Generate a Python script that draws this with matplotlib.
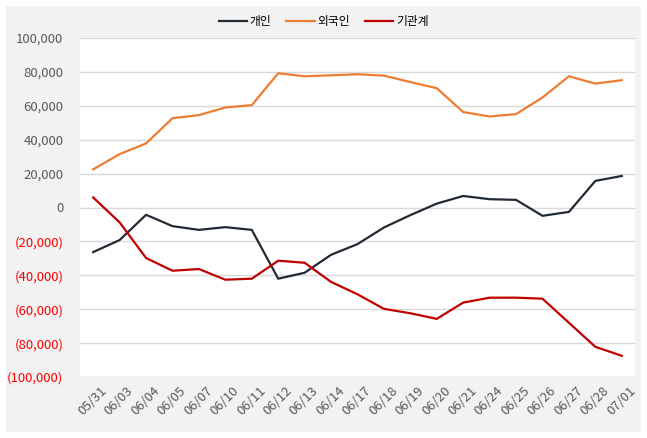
import matplotlib
matplotlib.use("Agg")
import matplotlib.pyplot as plt
from matplotlib.patches import Rectangle
from matplotlib.ticker import FuncFormatter, MultipleLocator
from matplotlib.transforms import ScaledTranslation

plt.rcParams['font.family'] = ['Noto Sans CJK KR', 'DejaVu Sans']

dates = ['05/31', '06/03', '06/04', '06/05', '06/07', '06/10', '06/11', '06/12',
         '06/13', '06/14', '06/17', '06/18', '06/19', '06/20', '06/21', '06/24',
         '06/25', '06/26', '06/27', '06/28', '07/01']

# 개인
individual = [-26300, -19200, -4300, -11000, -13200, -11600, -13200, -42000,
              -38500, -27900, -21600, -11800, -4500, 2300, 6800, 4900,
              4500, -4900, -2600, 15700, 18600]
# 외국인
foreign = [22500, 31500, 37800, 52700, 54500, 59000, 60400, 79200,
           77400, 78000, 78600, 77800, 74000, 70400, 56300, 53700,
           55100, 64900, 77400, 73100, 75100]
# 기관계
institution = [5900, -8800, -29800, -37300, -36300, -42600, -42000, -31400,
               -32600, -43900, -51200, -59800, -62400, -65700, -56100, -53200,
               -53200, -53800, -68000, -82200, -87500]

W, H = 647, 438
fig = plt.figure(figsize=(W / 100, H / 100), dpi=100)
fig.patch.set_facecolor('white')
fig.patches.append(Rectangle((6 / W, 6 / H), 635 / W, 426 / H, transform=fig.transFigure,
                             facecolor='#f2f2f2', edgecolor='none', zorder=-10))

ax = fig.add_axes([80 / W, (H - 377) / H, 555 / W, 339 / H])
ax.set_facecolor('white')

x = list(range(len(dates)))
ax.plot(x, individual, color='#222a35', lw=1.6, label='개인')
ax.plot(x, foreign, color='#ed7d31', lw=1.6, label='외국인')
ax.plot(x, institution, color='#c00000', lw=1.6, label='기관계')

ax.set_xlim(-0.5, len(dates) - 0.5)
ax.set_ylim(-100000, 100000)
ax.yaxis.set_major_locator(MultipleLocator(20000))
ax.yaxis.grid(True, color='#d9d9d9', lw=1)
ax.set_axisbelow(True)
for s in ax.spines.values():
    s.set_visible(False)


def fmt(v, pos):
    if v < 0:
        return '({:,.0f})'.format(-v)
    return '{:,.0f}'.format(v)


ax.yaxis.set_major_formatter(FuncFormatter(fmt))
ax.tick_params(axis='both', length=0, labelsize=9.5, colors='#595959')
ax.tick_params(axis='y', pad=12)
for t, v in zip(ax.get_yticklabels(), ax.get_yticks()):
    if v < 0:
        t.set_color('#ff0000')

ax.set_xticks(x)
ax.set_xticklabels(dates, rotation=45, ha='right', rotation_mode='anchor')
ax.tick_params(axis='x', pad=5)
shift = ScaledTranslation(7 / 100, 0, fig.dpi_scale_trans)
for t in ax.get_xticklabels():
    t.set_transform(t.get_transform() + shift)

fig.legend(loc='center', bbox_to_anchor=(0.5, 1 - 22 / H), ncol=3, frameon=False,
           fontsize=8.5, handlelength=2.4, columnspacing=1.3, handletextpad=0.2)

fig.savefig('out.png', dpi=100)
